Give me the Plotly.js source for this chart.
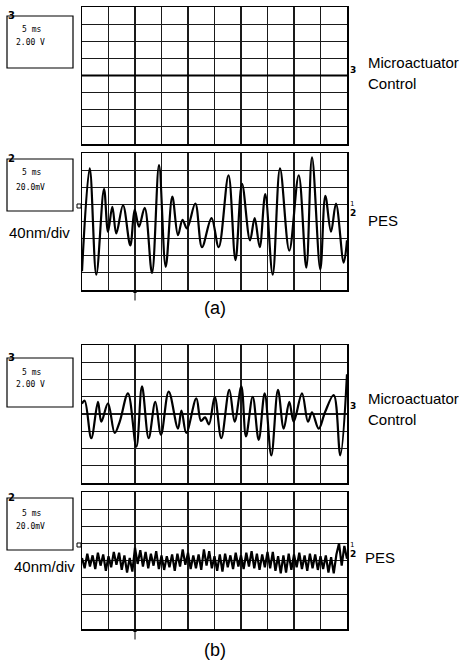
<!DOCTYPE html>
<html><head><meta charset="utf-8">
<script src="https://cdn.plot.ly/plotly-3.0.1.min.js"></script>
<style>html,body{margin:0;padding:0;background:#fff}#c{width:460px;height:663px}</style>
</head><body><div id="c"></div>
<script>
// (a) microactuator control: flat (controller off), volts
const timeA_ctl = [0, 50];
const ctlA = [0, 0];
// (a) PES, nm
const timeA_pes = [0,1.45,2.70,4.15,4.91,5.72,6.47,7.74,9.11,9.94,10.75,11.83,13.21,14.53,15.79,17.04,18.11,18.96,19.81,21.38,22.64,24.43,25.79,27.64,28.96,30.19,31.70,32.58,33.53,34.58,35.98,37.36,39.11,40.89,42.32,43.40,44.96,45.91,46.98,47.92,49.38,50];
const pesA = [-116,124,-124,76,-24,34,-28,38,-56,28,-12,32,-120,132,-106,58,-32,4,-16,42,-60,8,-60,108,-90,88,-44,8,-60,64,-124,124,-68,108,-108,150,-112,60,-24,42,-96,-44];
// (b) microactuator control, volts
const timeB_ctl = [0,0.51,1.75,3.02,3.64,4.91,6.17,7.11,8.68,10.25,11.32,12.58,13.83,14.91,16.36,18.11,18.77,19.68,21.57,22.45,23.21,23.96,25.04,26.28,27.79,28.81,30.06,30.94,32.21,33.34,34.47,35.72,36.98,38.06,39.11,39.94,41.51,42.64,43.40,44.66,45.85,47.49,48.74,50];
const ctlB = [1.2,1.54,-2.8,1.4,-0.9,1.24,-2.2,-0.9,2.4,-3.8,3.2,-2.8,1.4,-2.4,2.6,-1.7,0.4,-2.2,1.8,-0.8,-0.4,-1.2,2.0,-2.8,2.8,-0.9,3.2,-2.6,2.0,-3.0,2.4,-4.8,2.8,-1.7,1.4,-0.9,2.4,-0.9,0.2,-1.7,0.2,2.2,-4.8,4.6];
// (b) PES, nm
const timeB_pes = [0,0.5,1,1.5,2,2.5,3,3.5,4,4.5,5,5.5,6,6.5,7,7.5,8,8.5,9,9.5,10,10.5,11,11.5,12,12.5,13,13.5,14,14.5,15,15.5,16,16.5,17,17.5,18,18.5,19,19.5,20,20.5,21,21.5,22,22.5,23,23.5,24,24.5,25,25.5,26,26.5,27,27.5,28,28.5,29,29.5,30,30.5,31,31.5,32,32.5,33,33.5,34,34.5,35,35.5,36,36.5,37,37.5,38,38.5,39,39.5,40,40.5,41,41.5,42,42.5,43,43.5,44,44.5,45,45.5,46,46.5,47,47.5,48,48.5,49,49.5,50];
const pesB = [6,-18,16,-14,12,-20,18,-12,14,-24,10,
 -16,20,-10,18,-22,12,-28,6,-26,30,
 -8,24,-14,20,-18,16,-12,22,-20,12,
 -22,10,-16,14,-24,16,-14,26,-10,18,
 -20,12,-18,14,-22,26,-12,22,-18,10,
 -24,14,-26,16,-16,12,-20,18,-14,12,
 -20,18,-14,22,-18,16,-22,14,-16,20,
 -18,20,-24,10,-30,12,-28,16,-22,14,
 -16,18,-20,12,-24,16,-18,14,-22,10,
 -20,12,-28,8,-30,14,40,-12,34,4];

const W = 460, H = 663;
const px = x => x / W, py = y => 1 - y / H;
const ink = '#000';

const traces = [
  {x: timeA_ctl, y: ctlA, xaxis: 'x', yaxis: 'y', mode: 'lines', line: {color: ink, width: 2}},
  {x: timeA_pes, y: pesA, xaxis: 'x2', yaxis: 'y2', mode: 'lines', line: {color: ink, width: 2.2, shape: 'spline', smoothing: 1}},
  {x: timeB_ctl, y: ctlB, xaxis: 'x3', yaxis: 'y3', mode: 'lines', line: {color: ink, width: 2.2, shape: 'spline', smoothing: 1}},
  {x: timeB_pes, y: pesB, xaxis: 'x4', yaxis: 'y4', mode: 'lines', line: {color: ink, width: 2.2}}
];

function xa(anchor) {
  return {domain: [px(82), px(347)], range: [0, 50], dtick: 5, tick0: 0, anchor: anchor,
    showgrid: true, gridcolor: '#1a1a1a', gridwidth: 1.2, zeroline: false, showticklabels: false,
    ticks: '', showline: true, mirror: true, linecolor: '#000', linewidth: 1.5, fixedrange: true};
}
function ya(anchor, top, bot, r, dt) {
  return {domain: [py(bot), py(top)], range: [-r, r], dtick: dt, tick0: 0, anchor: anchor,
    showgrid: true, gridcolor: '#1a1a1a', gridwidth: 1.2, zeroline: false, showticklabels: false,
    ticks: '', showline: true, mirror: true, linecolor: '#000', linewidth: 1.5, fixedrange: true};
}

const ann = [];
function T(x, y, text, size, opts) {
  ann.push(Object.assign({xref: 'paper', yref: 'paper', x: px(x), y: py(y), text: text, showarrow: false,
    xanchor: 'left', yanchor: 'middle', font: {family: 'Liberation Sans, Arial, sans-serif', size: size, color: ink}}, opts || {}));
}
const mono = {family: 'DejaVu Sans Mono, monospace', size: 8, color: ink};
// info boxes text
[[30, 43, '2.00 V'], [173, 187, '20.0mV'], [372, 384, '2.00 V'], [513, 526, '20.0mV']].forEach(r => {
  T(20, r[0], '5 ms', 8, {font: mono});
  T(14, r[1], r[2], 8, {font: mono});
});
// box corner channel numbers
[[15, '3'], [158, '2'], [357, '3'], [497, '2']].forEach(r => T(6, r[0], '<b>' + r[1] + '</b>', 10, {font: {family: 'DejaVu Sans', size: 10, color: ink}}));
// right side channel markers
T(348, 70, '<b>3</b>', 9, {font: {family: 'DejaVu Sans', size: 9, color: ink}});
T(348, 406, '<b>3</b>', 9, {font: {family: 'DejaVu Sans', size: 9, color: ink}});
T(348, 204, '1', 7, {font: {family: 'DejaVu Sans', size: 7, color: ink}});
T(348, 213, '<b>2</b>', 9, {font: {family: 'DejaVu Sans', size: 9, color: ink}});
T(348, 545, '1', 7, {font: {family: 'DejaVu Sans', size: 7, color: ink}});
T(348, 554, '<b>2</b>', 9, {font: {family: 'DejaVu Sans', size: 9, color: ink}});
// labels
T(366, 62, 'Microactuator', 15);
T(366, 83, 'Control', 15);
T(366, 221, 'PES', 15);
T(366, 398, 'Microactuator', 15);
T(366, 419, 'Control', 15);
T(363, 557, 'PES', 15);
T(7, 233, '40nm/div', 15);
T(12, 566, '40nm/div', 15);
ann.push({xref: 'paper', yref: 'paper', x: px(215), y: py(308), text: '(a)', showarrow: false, xanchor: 'center', yanchor: 'middle', font: {family: 'Liberation Sans, Arial, sans-serif', size: 18, color: ink}});
ann.push({xref: 'paper', yref: 'paper', x: px(215), y: py(650), text: '(b)', showarrow: false, xanchor: 'center', yanchor: 'middle', font: {family: 'Liberation Sans, Arial, sans-serif', size: 18, color: ink}});
// trigger arrows
[291, 630].forEach(y => ann.push({xref: 'paper', yref: 'paper', x: px(135), y: py(y), text: '', showarrow: true, ax: 0, ay: 11, arrowhead: 1, arrowsize: 0.7, arrowwidth: 1, arrowcolor: ink}));

const shapes = [];
[[16, 68], [159, 211], [358, 407], [498, 550]].forEach(b => shapes.push({type: 'rect', xref: 'paper', yref: 'paper',
  x0: px(7), x1: px(73), y0: py(b[1]), y1: py(b[0]), line: {color: ink, width: 1.2}}));
// ground reference markers on left edge
[206, 545].forEach(y => shapes.push({type: 'rect', xref: 'paper', yref: 'paper', x0: px(77), x1: px(81), y0: py(y + 2), y1: py(y - 2), line: {color: ink, width: 1}}));

const layout = {
  width: W, height: H, margin: {l: 0, r: 0, t: 0, b: 0}, showlegend: false,
  paper_bgcolor: '#fff', plot_bgcolor: '#fff',
  xaxis: xa('y'), xaxis2: xa('y2'), xaxis3: xa('y3'), xaxis4: xa('y4'),
  yaxis: ya('x', 7, 144, 8, 2),
  yaxis2: ya('x2', 153, 290, 160, 40),
  yaxis3: ya('x3', 345, 483, 8, 2),
  yaxis4: ya('x4', 492, 629, 160, 40),
  annotations: ann, shapes: shapes
};
Plotly.newPlot('c', traces, layout, {staticPlot: true, displayModeBar: false});
</script></body></html>
